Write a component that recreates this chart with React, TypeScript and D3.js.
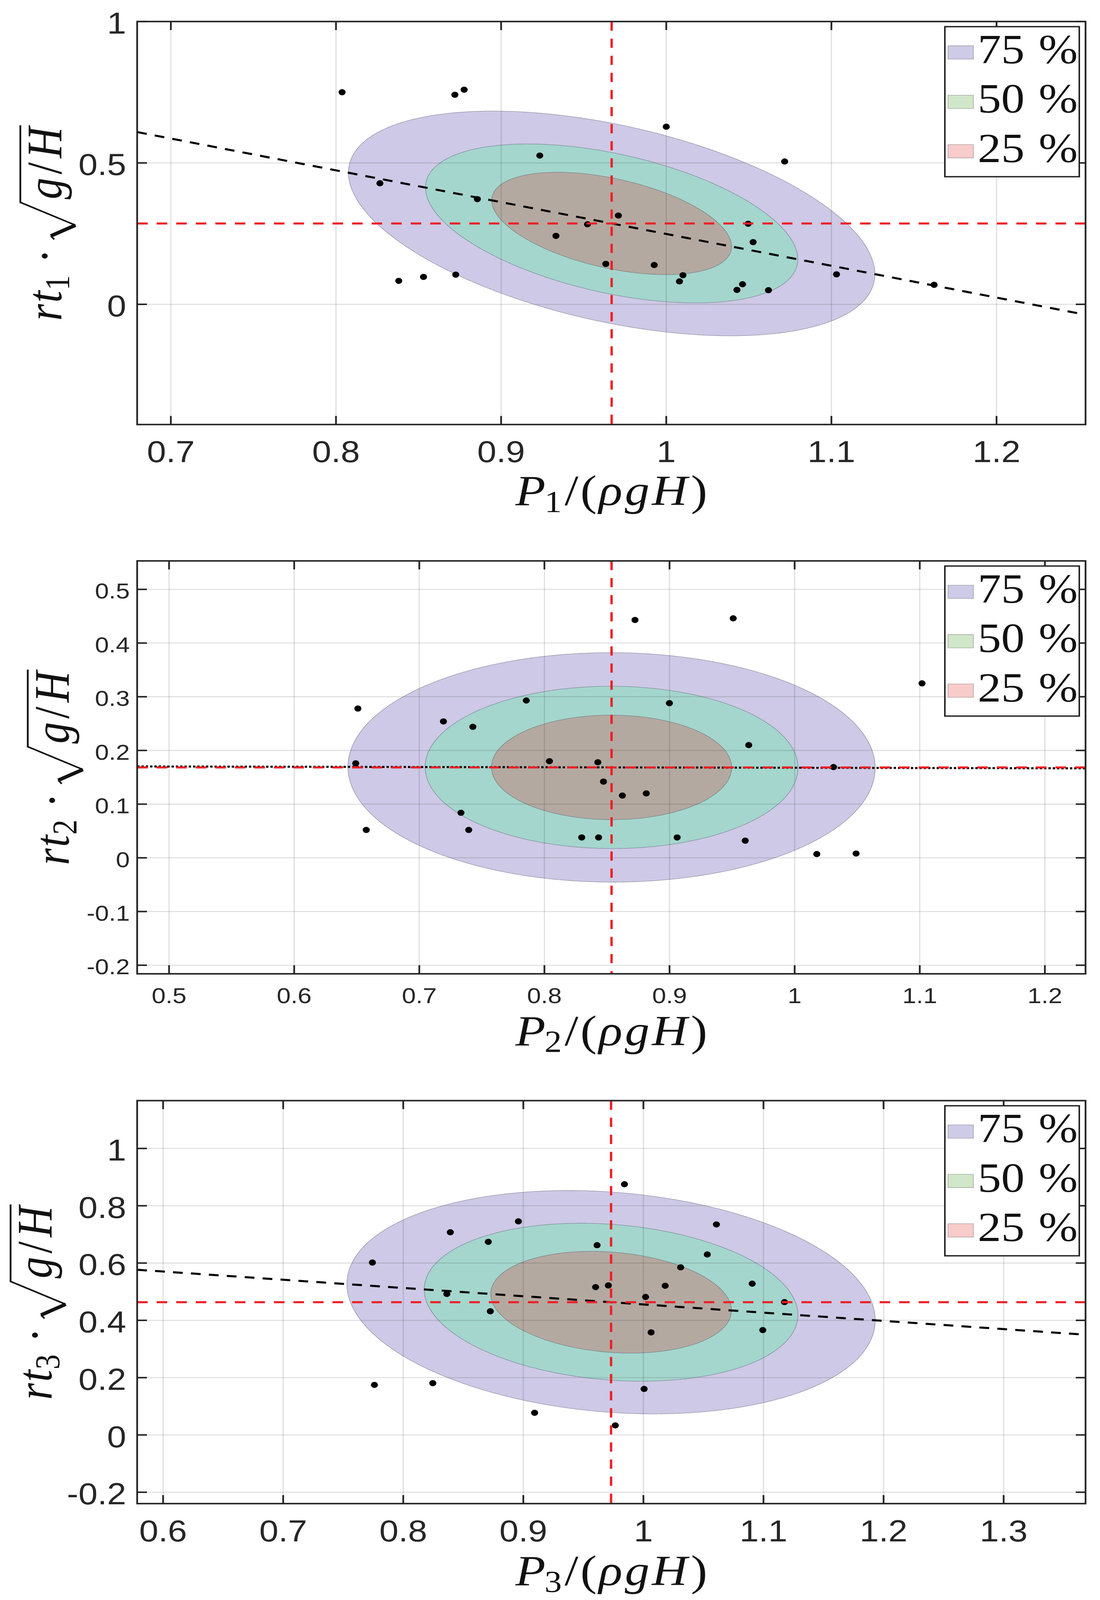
import React, { useEffect, useRef, useState } from 'react';
import * as d3 from 'd3';

// ---------- data ----------
const p1X = [0.8037, 0.872, 0.8776, 1.0, 0.9234, 1.0717, 0.8266, 0.8856, 0.971, 0.9523, 1.0496, 0.9332, 1.0526, 0.9634, 0.9927, 1.0101, 1.008, 1.0462, 1.0428, 1.0619, 1.1031, 1.1622, 0.838, 0.853, 0.8725];
const p1Y = [0.750, 0.741, 0.759, 0.628, 0.526, 0.505, 0.428, 0.372, 0.314, 0.283, 0.285, 0.242, 0.220, 0.143, 0.139, 0.103, 0.081, 0.071, 0.051, 0.050, 0.106, 0.069, 0.083, 0.097, 0.105];

const p2X = [0.8724, 0.9509, 1.1018, 0.6509, 0.7855, 0.8999, 0.7193, 0.7428, 0.9633, 0.6492, 0.804, 0.8427, 1.0311, 0.8472, 0.8623, 0.8814, 0.7333, 0.6576, 0.7395, 0.8298, 0.8433, 0.9061, 0.9605, 1.0177, 1.0491];
const p2Y = [0.443, 0.446, 0.325, 0.278, 0.293, 0.288, 0.254, 0.244, 0.210, 0.176, 0.180, 0.178, 0.169, 0.142, 0.116, 0.120, 0.084, 0.052, 0.052, 0.038, 0.038, 0.038, 0.032, 0.007, 0.008];

const p3X = [0.9842, 0.8959, 0.8392, 1.0608, 0.8708, 0.9614, 0.7743, 1.0532, 1.031, 0.9602, 0.9708, 1.0181, 1.0906, 0.8363, 1.0018, 1.1175, 0.8725, 1.0064, 1.0994, 0.776, 0.8246, 1.0006, 0.9094, 0.9766, 1.395];
const p3Y = [0.875, 0.7455, 0.7075, 0.7348, 0.674, 0.6623, 0.6017, 0.630, 0.585, 0.516, 0.522, 0.5208, 0.528, 0.4923, 0.4816, 0.4637, 0.4316, 0.358, 0.366, 0.1748, 0.1807, 0.1605, 0.0773, 0.0333, 0.06];

const p1XDomain = [0.6796, 1.2539];
const p1YDomain = [-0.425, 1.0];
const p2XDomain = [0.4745, 1.2325];
const p2YDomain = [-0.216, 0.553];
const p3XDomain = [0.5784, 1.3682];
const p3YDomain = [-0.2397, 1.167];

const p1XTicks = [0.7, 0.8, 0.9, 1, 1.1, 1.2];
const p1YTicks = [0, 0.5, 1];
const p2XTicks = [0.5, 0.6, 0.7, 0.8, 0.9, 1, 1.1, 1.2];
const p2YTicks = [-0.2, -0.1, 0, 0.1, 0.2, 0.3, 0.4, 0.5];
const p3XTicks = [0.6, 0.7, 0.8, 0.9, 1, 1.1, 1.2, 1.3];
const p3YTicks = [-0.2, 0, 0.2, 0.4, 0.6, 0.8, 1];

const levels = [0.75, 0.5, 0.25];
const levelLabels = ['75', '50', '25'];
const subscripts = ['1', '2', '3'];

// ---------- styles ----------
const W_ = 2815;
const H_ = 4681;
const fillColors = ['rgb(155,147,205)', 'rgb(123,227,180)', 'rgb(196,124,115)'];
const legendColors = ['#cdcbe6', '#d1e7c9', '#f9cccc'];
const AXIS = '#262626';
const SERIF = '"Liberation Serif", "Times New Roman", serif';

type Box = { l: number; r: number; t: number; b: number };
type PanelCfg = {
  xs: number[]; ys: number[]; xDom: number[]; yDom: number[]; xTicks: number[]; yTicks: number[];
  box: Box; tickSize: number; xTickDy: number; yTickX: number; xLabelY: number; yLabelX: number; regDash: string; sub: string;
};

const panels: PanelCfg[] = [
  { xs: p1X, ys: p1Y, xDom: p1XDomain, yDom: p1YDomain, xTicks: p1XTicks, yTicks: p1YTicks,
    box: { l: 351, r: 2778, t: 63, b: 1242 }, tickSize: 88, xTickDy: 110, yTickX: 323, xLabelY: 1478, yLabelX: 157, regDash: '25 21', sub: subscripts[0] },
  { xs: p2X, ys: p2Y, xDom: p2XDomain, yDom: p2YDomain, xTicks: p2XTicks, yTicks: p2YTicks,
    box: { l: 351, r: 2778, t: 1641, b: 2849 }, tickSize: 64, xTickDy: 86, yTickX: 332, xLabelY: 3058, yLabelX: 176, regDash: '6 5', sub: subscripts[1] },
  { xs: p3X, ys: p3Y, xDom: p3XDomain, yDom: p3YDomain, xTicks: p3XTicks, yTicks: p3YTicks,
    box: { l: 351, r: 2778, t: 3220, b: 4399 }, tickSize: 88, xTickDy: 111, yTickX: 323, xLabelY: 4638, yLabelX: 132, regDash: '25 21', sub: subscripts[2] },
];

function stats(xs: number[], ys: number[]) {
  const n = xs.length;
  const mx = d3.mean(xs) as number;
  const my = d3.mean(ys) as number;
  let sxx = 0, syy = 0, sxy = 0;
  for (let i = 0; i < n; i++) {
    const dx = xs[i] - mx, dy = ys[i] - my;
    sxx += dx * dx; syy += dy * dy; sxy += dx * dy;
  }
  const sdx = Math.sqrt(sxx / (n - 1));
  const sdy = Math.sqrt(syy / (n - 1));
  return { mx, my, sdx, sdy, rho: sxy / Math.sqrt(sxx * syy), slope: sxy / sxx };
}

type Piece = { t?: string; italic?: boolean; scale?: number; dy?: number; gapBefore?: number; gapAfter?: number; sqrt?: Piece[] };

function layoutPieces(g: any, pieces: Piece[], F: number, x0: number): number {
  let x = x0;
  for (const p of pieces) {
    if (p.sqrt) {
      x += (p.gapBefore || 0) * F;
      const hook = x;
      const bottom = hook + 0.25 * F;
      const top = bottom + 0.53 * F;
      const cStart = top + 0.02 * F;
      const cEnd = layoutPieces(g, p.sqrt, F, cStart);
      const oEnd = cEnd + 0.04 * F;
      const yTop = -0.833 * F, yBot = 0.286 * F, yHook = -0.214 * F;
      g.append('path').attr('d', `M${hook - 0.08 * F},${yHook + 0.07 * F}L${hook},${yHook}`)
        .attr('stroke', '#111').attr('stroke-width', 0.036 * F).attr('fill', 'none');
      g.append('path').attr('d', `M${hook},${yHook}L${bottom},${yBot}`)
        .attr('stroke', '#111').attr('stroke-width', 0.08 * F).attr('fill', 'none');
      g.append('path').attr('d', `M${bottom},${yBot}L${top},${yTop}L${oEnd},${yTop}`)
        .attr('stroke', '#111').attr('stroke-width', 0.036 * F).attr('fill', 'none').attr('stroke-linejoin', 'miter');
      x = oEnd;
    } else {
      x += (p.gapBefore || 0) * F;
      const size = F * (p.scale || 1);
      const txt = g.append('text')
        .attr('x', x).attr('y', (p.dy || 0) * F)
        .attr('font-size', size)
        .attr('font-family', SERIF)
        .attr('font-style', p.italic ? 'italic' : 'normal')
        .attr('fill', '#111')
        .text(p.t as string);
      const w = (txt.node() as SVGTextElement).getComputedTextLength();
      x += w + (p.gapAfter || 0) * F;
    }
  }
  return x;
}

function drawMath(parent: any, pieces: Piece[], F: number, transform: string) {
  const g = parent.append('g').attr('transform', transform);
  const inner = g.append('g');
  const W = layoutPieces(inner, pieces, F, 0);
  inner.attr('transform', `translate(${-W / 2},0)`);
}

const fmt = (v: number) => String(+v.toFixed(2));

function draw(svgEl: SVGSVGElement) {
  const svg = d3.select(svgEl);
  svg.selectAll('*').remove();
  svg.append('rect').attr('width', W_).attr('height', H_).attr('fill', '#fff');
  const defs = svg.append('defs');

  panels.forEach((P, pi) => {
    const { box } = P;
    const x = d3.scaleLinear().domain(P.xDom).range([box.l, box.r]);
    const y = d3.scaleLinear().domain(P.yDom).range([box.b, box.t]);
    const s = stats(P.xs, P.ys);

    const clipId = `clip${pi}`;
    defs.append('clipPath').attr('id', clipId).append('rect')
      .attr('x', box.l).attr('y', box.t).attr('width', box.r - box.l).attr('height', box.b - box.t);

    const g = svg.append('g').attr('clip-path', `url(#${clipId})`);

    // confidence ellipses (from the sample covariance)
    const line = d3.line<[number, number]>().curve(d3.curveLinearClosed);
    levels.forEach((p, li) => {
      const k = Math.sqrt(-2 * Math.log(1 - p));
      const pts: [number, number][] = d3.range(0, 360).map((deg) => {
        const t = (deg * Math.PI) / 180;
        const u = Math.cos(t), v = Math.sin(t);
        return [x(s.mx + k * s.sdx * u), y(s.my + k * s.sdy * (s.rho * u + Math.sqrt(1 - s.rho * s.rho) * v))];
      });
      g.append('path').attr('d', line(pts) as string)
        .attr('fill', fillColors[li]).attr('fill-opacity', 0.5)
        .attr('stroke', '#4a4a5e').attr('stroke-width', 1.5).attr('stroke-dasharray', '2 2');
    });

    // grid
    const grid = g.append('g').attr('stroke', 'rgba(38,38,38,0.15)').attr('stroke-width', 3);
    P.xTicks.forEach((t) => grid.append('line').attr('x1', x(t)).attr('x2', x(t)).attr('y1', box.t).attr('y2', box.b));
    P.yTicks.forEach((t) => grid.append('line').attr('x1', box.l).attr('x2', box.r).attr('y1', y(t)).attr('y2', y(t)));

    // points
    P.xs.forEach((xv, i) => {
      g.append('circle').attr('cx', x(xv)).attr('cy', y(P.ys[i])).attr('r', 9).attr('fill', '#000');
    });

    // regression line
    const x0 = P.xDom[0], x1 = P.xDom[1];
    g.append('line')
      .attr('x1', x(x0)).attr('y1', y(s.my + s.slope * (x0 - s.mx)))
      .attr('x2', x(x1)).attr('y2', y(s.my + s.slope * (x1 - s.mx)))
      .attr('stroke', '#000').attr('stroke-width', 6).attr('stroke-dasharray', P.regDash);

    // mean lines
    g.append('line').attr('x1', x(s.mx)).attr('x2', x(s.mx)).attr('y1', box.t).attr('y2', box.b)
      .attr('stroke', '#ee1f26').attr('stroke-width', 6).attr('stroke-dasharray', '27 23');
    g.append('line').attr('x1', box.l).attr('x2', box.r).attr('y1', y(s.my)).attr('y2', y(s.my))
      .attr('stroke', '#ee1f26').attr('stroke-width', 6).attr('stroke-dasharray', '27 23');

    // frame + ticks
    const ax = svg.append('g').attr('stroke', AXIS).attr('stroke-width', 4.5).attr('fill', 'none');
    ax.append('rect').attr('x', box.l).attr('y', box.t).attr('width', box.r - box.l).attr('height', box.b - box.t);
    P.xTicks.forEach((t) => {
      ax.append('line').attr('x1', x(t)).attr('x2', x(t)).attr('y1', box.b).attr('y2', box.b - 25);
      ax.append('line').attr('x1', x(t)).attr('x2', x(t)).attr('y1', box.t).attr('y2', box.t + 25);
    });
    P.yTicks.forEach((t) => {
      ax.append('line').attr('x1', box.l).attr('x2', box.l + 25).attr('y1', y(t)).attr('y2', y(t));
      ax.append('line').attr('x1', box.r).attr('x2', box.r - 25).attr('y1', y(t)).attr('y2', y(t));
    });

    // tick labels
    const tl = svg.append('g').attr('fill', AXIS).attr('font-family', '"Liberation Sans", Arial, sans-serif').attr('font-size', P.tickSize);
    P.xTicks.forEach((t) => {
      tl.append('text').attr('x', x(t)).attr('y', box.b + P.xTickDy).attr('text-anchor', 'middle').text(fmt(t));
    });
    P.yTicks.forEach((t) => {
      tl.append('text').attr('x', P.yTickX).attr('y', y(t) + P.tickSize * 0.716 / 2 + 4).attr('text-anchor', 'end').text(fmt(t));
    });

    // axis labels
    const F = 126;
    const xLabel: Piece[] = [
      { t: 'P', italic: true },
      { t: P.sub, scale: 0.7, dy: 0.15, gapBefore: -0.02 },
      { t: '/', gapBefore: 0.06 },
      { t: '(', gapBefore: 0.04 },
      { t: 'ρ', italic: true, gapBefore: 0.04 },
      { t: 'g', italic: true, gapBefore: 0.05 },
      { t: 'H', italic: true, gapBefore: 0.05 },
      { t: ')', gapBefore: 0.07 },
    ];
    drawMath(svg, xLabel, F, `translate(${(box.l + box.r) / 2},${P.xLabelY})`);

    const yLabel: Piece[] = [
      { t: 'r', italic: true },
      { t: 't', italic: true, gapBefore: 0.03 },
      { t: P.sub, scale: 0.7, dy: 0.15, gapBefore: 0.01 },
      { t: '·', gapBefore: 0.28, gapAfter: 0.3 },
      { sqrt: [
        { t: 'g', italic: true, gapBefore: 0.05 },
        { t: '/', gapBefore: 0.08 },
        { t: 'H', italic: true, gapBefore: 0.1 },
      ] },
    ];
    drawMath(svg, yLabel, F, `translate(${P.yLabelX},${(box.t + box.b) / 2}) rotate(-90)`);

    // legend
    const lg = svg.append('g');
    const bl = box.r - 360, bt = box.t + 15;
    lg.append('rect').attr('x', bl).attr('y', bt).attr('width', 344).attr('height', 439)
      .attr('fill', '#fff').attr('stroke', AXIS).attr('stroke-width', 4);
    levels.forEach((p, li) => {
      const rowY = bt + li * 144.5;
      lg.append('rect').attr('x', bl + 8).attr('y', rowY + 56).attr('width', 65).attr('height', 39)
        .attr('fill', legendColors[li]).attr('stroke', '#555').attr('stroke-width', 1.5).attr('stroke-dasharray', '2 2');
      lg.append('text').attr('x', bl + 84).attr('y', rowY + 107)
        .attr('font-family', SERIF).attr('font-size', 120).attr('fill', '#111')
        .text(levelLabels[li]);
      lg.append('text').attr('x', bl + 240).attr('y', rowY + 107)
        .attr('font-family', SERIF).attr('font-size', 120).attr('fill', '#111')
        .text('%');
    });
  });
}

export default function App() {
  const ref = useRef<SVGSVGElement>(null);
  const [h, setH] = useState<number>(() => Math.min(H_, window.innerHeight || H_));
  useEffect(() => {
    document.body.style.margin = '0';
    document.body.style.overflow = 'hidden';
    setH(Math.min(H_, window.innerHeight || H_));
  }, []);
  useEffect(() => {
    if (ref.current) draw(ref.current);
  }, [h]);
  return (
    <svg ref={ref} width={W_} height={h} viewBox={`0 0 ${W_} ${H_}`} preserveAspectRatio="none"
      style={{ position: 'absolute', left: 0, top: 0, display: 'block', background: '#fff' }} />
  );
}
